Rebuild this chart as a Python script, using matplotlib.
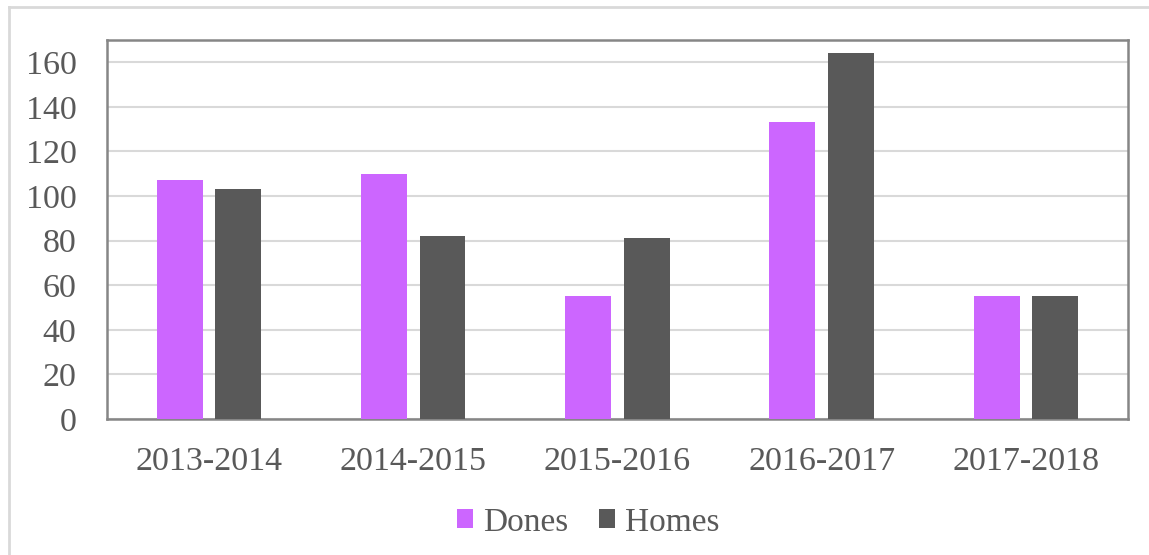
import numpy as np
import matplotlib.pyplot as plt
from matplotlib.lines import Line2D

years = ['2013-2014', '2014-2015', '2015-2016', '2016-2017', '2017-2018']
dones = [107, 110, 55, 133, 55]
homes = [103, 82, 81, 164, 55]
yticks = [0, 20, 40, 60, 80, 100, 120, 140, 160]

purple = '#CC66FF'
grey = '#595959'
txt = '#595959'

plt.rcParams['font.family'] = ['Liberation Serif', 'DejaVu Serif']

fig = plt.figure(figsize=(11.49, 5.55), dpi=100)
ax = fig.add_axes([0.0931, 0.245, 0.8886, 0.683])

x = np.arange(len(years))
w = 0.225
ax.bar(x - 0.143, dones, w, color=purple, label='Dones', zorder=3)
ax.bar(x + 0.143, homes, w, color=grey, label='Homes', zorder=3)

ax.set_xlim(-0.5, len(years) - 0.5)
ax.set_ylim(0, 170)
ax.set_yticks(yticks)
ax.set_xticks(x)
ax.set_xticklabels(years)
ax.tick_params(axis='both', length=0, labelsize=24.5, colors=txt)
ax.tick_params(axis='x', pad=20)
ax.tick_params(axis='y', pad=22)
ax.grid(axis='y', color='#d9d9d9', linewidth=1.5, zorder=0)
for s in ax.spines.values():
    s.set_color('#868686')
    s.set_linewidth(1.8)

fig.legend(loc='center', bbox_to_anchor=(0.512, 0.059), ncol=2, frameon=False,
           fontsize=24, labelcolor=txt, handlelength=0.48, handleheight=0.48,
           handletextpad=0.3, columnspacing=0.9)

# outer chart border (left and top visible)
fig.add_artist(Line2D([0.0075, 0.0075], [0, 0.987], color='#d9d9d9', lw=2, transform=fig.transFigure))
fig.add_artist(Line2D([0.0075, 1.0], [0.987, 0.987], color='#d9d9d9', lw=2, transform=fig.transFigure))

fig.savefig('out.png', dpi=100)
